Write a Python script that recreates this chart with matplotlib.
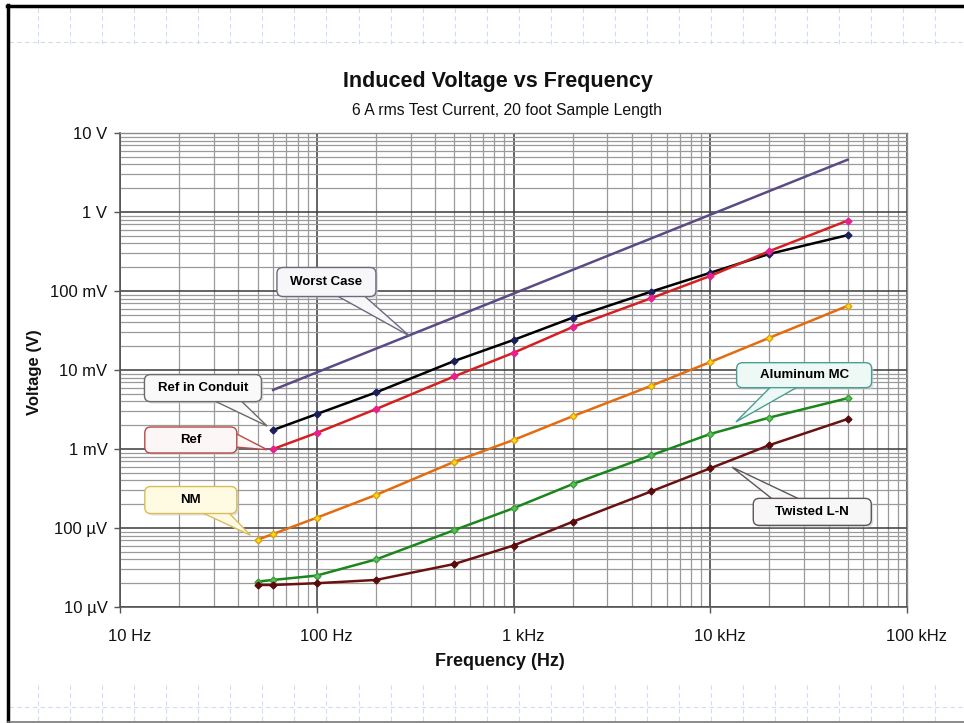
import numpy as np
import matplotlib
matplotlib.use("Agg")
import matplotlib.pyplot as plt
from matplotlib.lines import Line2D
from matplotlib.patches import FancyBboxPatch, Polygon
from matplotlib.transforms import IdentityTransform, ScaledTranslation
from matplotlib.ticker import FixedLocator, LogLocator, NullFormatter

plt.rcParams["font.family"] = ["Liberation Sans", "DejaVu Sans"]

# ---------------------------------------------------------------------------
# Data (Hz, V)
# ---------------------------------------------------------------------------
freq_full = [50, 60, 100, 200, 500, 1000, 2000, 5000, 10000, 20000, 50000]
freq_60 = [60, 100, 200, 500, 1000, 2000, 5000, 10000, 20000, 50000]

worst_f = [60, 50000]
worst_v = [0.0056, 4.6]

conduit_v = [0.00174, 0.00277, 0.0052, 0.013, 0.024, 0.046, 0.098, 0.17, 0.295, 0.51]
ref_v = [0.0010, 0.0016, 0.0032, 0.0083, 0.0165, 0.035, 0.081, 0.155, 0.32, 0.78]
nm_v = [71e-6, 84e-6, 135e-6, 262e-6, 0.00069, 0.0013, 0.0026, 0.0063, 0.0126, 0.0256, 0.065]
alum_v = [21e-6, 22e-6, 25e-6, 40e-6, 94e-6, 178e-6, 360e-6, 0.00083, 0.00155, 0.0025, 0.0044]
twisted_v = [19e-6, 19e-6, 20e-6, 22e-6, 35e-6, 60e-6, 120e-6, 0.00029, 0.00057, 0.00112, 0.0024]

x_ticks = [10, 100, 1000, 10000, 100000]
x_labels = ["10 Hz", "100 Hz", "1 kHz", "10 kHz", "100 kHz"]
y_ticks = [1e-5, 1e-4, 1e-3, 1e-2, 1e-1, 1, 10]
y_labels = ["10 µV", "100 µV", "1 mV", "10 mV", "100 mV", "1 V", "10 V"]

W, H = 964, 723
fig = plt.figure(figsize=(W / 100, H / 100), dpi=100)
fig.patch.set_facecolor("white")


def fx(px):
    return px / W


def fy(py):
    return 1 - py / H


# spreadsheet cell grid peeking out above / below the chart area
cell_kw = dict(color="#d3dbf4", lw=0.8, ls=(0, (4, 3)), zorder=0)
for k in range(30):
    x = 38 + 32.05 * k
    if x > W:
        break
    fig.add_artist(Line2D([fx(x), fx(x)], [fy(8), fy(44)], **cell_kw))
    fig.add_artist(Line2D([fx(x), fx(x)], [fy(685), fy(722)], **cell_kw))
fig.add_artist(Line2D([fx(9), 1], [fy(42), fy(42)], **cell_kw))
fig.add_artist(Line2D([fx(9), 1], [fy(707), fy(707)], **cell_kw))

# outer frame of the screenshot
fig.add_artist(Line2D([fx(8), fx(8)], [fy(5), fy(723)], color="black", lw=2.5))
fig.add_artist(Line2D([fx(7), 1], [fy(6), fy(6)], color="black", lw=2.5))
fig.add_artist(Line2D([fx(8), 1], [fy(722), fy(722)], color="#777777", lw=1.2))

ax = fig.add_axes([fx(120), fy(607), fx(907) - fx(120), fy(133) - fy(607)])
ax.set_xscale("log")
ax.set_yscale("log")
ax.set_xlim(10, 100000)
ax.set_ylim(1e-5, 10)

# grid: dark decades, grey 2..9
ax.xaxis.set_major_locator(FixedLocator(x_ticks))
ax.yaxis.set_major_locator(FixedLocator(y_ticks))
ax.xaxis.set_minor_locator(LogLocator(base=10, subs=range(2, 10), numticks=20))
ax.yaxis.set_minor_locator(LogLocator(base=10, subs=range(2, 10), numticks=20))
ax.xaxis.set_minor_formatter(NullFormatter())
ax.yaxis.set_minor_formatter(NullFormatter())
ax.set_xticklabels(x_labels)
ax.set_yticklabels(y_labels)
ax.grid(which="minor", color="#9a9a9a", lw=0.9)
ax.grid(which="major", color="#3a3a3a", lw=1.1)
ax.tick_params(which="minor", length=0)
ax.tick_params(which="major", length=4.5, width=1, color="#555555",
               labelsize=12, labelcolor="#111111")
ax.tick_params(axis="y", pad=4.5)
ax.tick_params(axis="x", pad=11)
for lab in ax.get_xticklabels():
    lab.set_transform(lab.get_transform() + ScaledTranslation(0.1, 0, fig.dpi_scale_trans))
for s in ("left", "bottom"):
    ax.spines[s].set_color("#555555")
    ax.spines[s].set_linewidth(1.2)
for s in ("top", "right"):
    ax.spines[s].set_color("#8a8a8a")
    ax.spines[s].set_linewidth(1.0)
ax.set_axisbelow(True)

# series
ax.plot(worst_f, worst_v, color="#5b4b85", lw=1.8, zorder=3)
ax.plot(freq_60, conduit_v, color="black", lw=1.8, marker="D", ms=3.5,
        mfc="#1c1f5a", mec="#1c1f5a", zorder=4)
ax.plot(freq_60, ref_v, color="#d42020", lw=1.8, marker="D", ms=3.5,
        mfc="#e8208f", mec="#e8208f", zorder=4)
ax.plot(freq_full, nm_v, color="#e36c0e", lw=1.8, marker="D", ms=3.5,
        mfc="#f7dc1c", mec="#e0a010", zorder=4)
ax.plot(freq_full, alum_v, color="#1b861b", lw=1.8, marker="D", ms=3.5,
        mfc="#5cc05c", mec="#3aa03a", zorder=4)
ax.plot(freq_full, twisted_v, color="#6a1212", lw=1.8, marker="D", ms=3.5,
        mfc="#5a0c0c", mec="#5a0c0c", zorder=4)

fig.text(fx(500), fy(662), "Frequency (Hz)", ha="center", va="center",
         fontsize=13, fontweight="bold", color="#111111")
fig.text(fx(35), fy(372), "Voltage (V)", ha="center", va="center",
         rotation=90, fontsize=12, fontweight="bold", color="#111111")

# callouts: label, box centre (data), tip (data), box size (px), fill, edge
callouts = [
    ("Worst Case", (112, 0.13), (296, 0.027), (99, 29), "#f7f7f9", "#6b6b80"),
    ("Ref in Conduit", (26.4, 0.0059), (56, 0.00195), (117, 27), "#f9f9f9", "#6a6a6a"),
    ("Ref", (22.9, 0.0013), (56, 0.00098), (92, 26), "#fcf6f6", "#b84a48"),
    ("NM", (22.9, 0.000226), (46, 8.1e-5), (92, 27), "#fffbe3", "#d9bc5a"),
    ("Aluminum MC", (30000, 0.0086), (13500, 0.0022), (135, 25), "#eef8f5", "#4a9e96"),
    ("Twisted L-N", (33000, 0.00016), (12900, 0.00059), (118, 27), "#f8f7f7", "#5e5656"),
]
ident = IdentityTransform()
for label, centre, tip, (w, h), fill, edge in callouts:
    cx, cy = ax.transData.transform(centre)
    tx, ty = ax.transData.transform(tip)
    dx, dy = tx - cx, ty - cy
    w2, h2, r, half = w / 2, h / 2, 6, 14
    if abs(dx) / w2 > abs(dy) / h2:
        ey = cy + dy * (w2 / abs(dx))
        ex = cx + np.sign(dx) * (w2 - 2)
        base = [(ex, max(ey - half, cy - h2 + r)), (ex, min(ey + half, cy + h2 - r))]
    else:
        ex = cx + dx * (h2 / abs(dy))
        ey = cy + np.sign(dy) * (h2 - 2)
        base = [(max(ex - half, cx - w2 + r), ey), (min(ex + half, cx + w2 - r), ey)]
    shadow = FancyBboxPatch((cx - w2 + 2, cy - h2 - 2), w, h,
                            boxstyle=f"round,pad=0,rounding_size={r}",
                            fc="#cfcfcf", ec="none", alpha=0.6,
                            transform=ident, zorder=5)
    wedge = Polygon([base[0], (tx, ty), base[1]], closed=True, fc=fill, ec=edge,
                    lw=1.0, transform=ident, zorder=6)
    box = FancyBboxPatch((cx - w2, cy - h2), w, h,
                         boxstyle=f"round,pad=0,rounding_size={r}",
                         fc=fill, ec=edge, lw=1.0, transform=ident, zorder=7)
    for p in (shadow, wedge, box):
        fig.add_artist(p)
    fig.text(cx / W, cy / H, label, ha="center", va="center", fontsize=9.5,
             fontweight="bold", color="black", zorder=8)

fig.text(fx(498), fy(81), "Induced Voltage vs Frequency", ha="center",
         va="center", fontsize=15.5, fontweight="bold", color="#111111")
fig.text(fx(507), fy(110), "6 A rms Test Current, 20 foot Sample Length",
         ha="center", va="center", fontsize=11.3, color="#111111")

fig.savefig("out.png", dpi=100)
